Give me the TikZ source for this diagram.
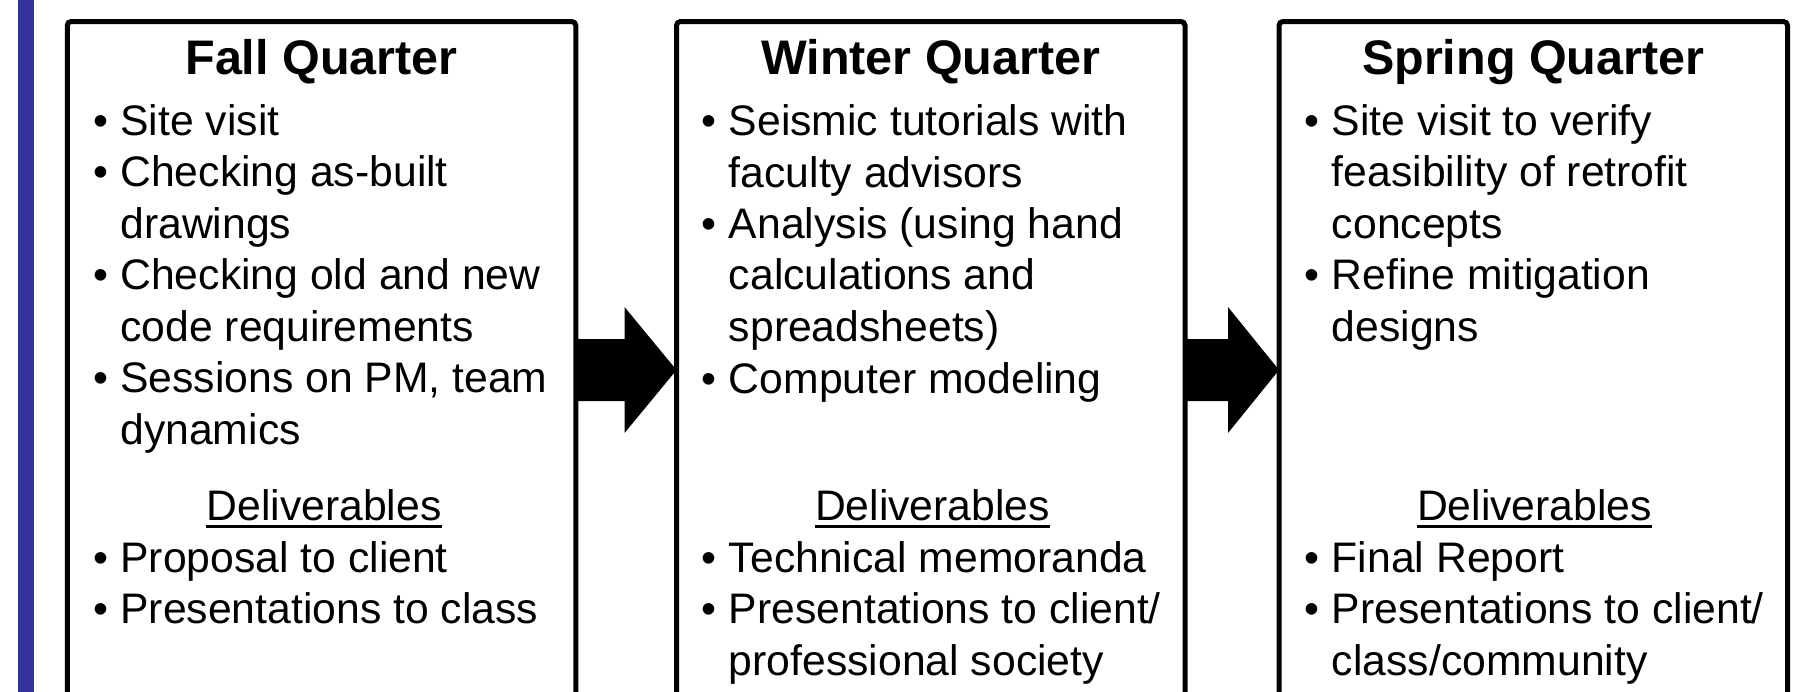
\documentclass[tikz,border=0pt]{standalone}
\usepackage{fontspec}
\setmainfont{Liberation Sans}
\usetikzlibrary{calc}
\definecolor{barblue}{RGB}{51,51,153}
\newcommand{\qbul}{\makebox[13.5pt][l]{•}}
\newcommand{\qind}{\hspace*{13.5pt}}
\begin{document}
\begin{tikzpicture}[x=0.5pt,y=-0.5pt,
  qbox/.style={draw=black, line width=2.5pt, rounded corners=2pt, minimum width=254.25pt, minimum height=348.5pt, inner sep=0pt, outer sep=0pt, anchor=north},
  ttl/.style={anchor=base, inner sep=0pt, font=\fontsize{24.25pt}{29pt}\selectfont\bfseries},
  itm/.style={anchor=base west, inner sep=0pt, align=left, font=\fontsize{21.35pt}{25.75pt}\selectfont},
  dlv/.style={anchor=base, inner sep=0pt, font=\fontsize{21.35pt}{25.75pt}\selectfont},
  uline/.style={line width=1.5pt},
  fat/.style={fill=black}]
\useasboundingbox (0,0) rectangle (1804,691);
\clip (0,0) rectangle (1804,691);
\fill[barblue] (18,-5) rectangle (34,700);
% boxes
\node[qbox] (fall) at (321.5,21.5) {};
\node[qbox] (winter) at (930.75,21.5) {};
\node[qbox] (spring) at (1533.25,21.5) {};
% arrows
\fill[fat] ($(fall.east)+(0,-31)$) -- ($(winter.west)+(-52,-31)$) -- ($(winter.west)+(-52,-63)$) -- (winter.west) -- ($(winter.west)+(-52,63)$) -- ($(winter.west)+(-52,31)$) -- ($(fall.east)+(0,31)$) -- cycle;
\fill[fat] ($(winter.east)+(0,-31)$) -- ($(spring.west)+(-51,-31)$) -- ($(spring.west)+(-51,-63)$) -- (spring.west) -- ($(spring.west)+(-51,63)$) -- ($(spring.west)+(-51,31)$) -- ($(winter.east)+(0,31)$) -- cycle;
% Fall (multi-line nodes are placed by the baseline of their last line)
\node[ttl] (fallT) at (321.5,74) {Fall Quarter};
\node[itm] (f1) at (93,135) {\qbul Site visit};
\node[itm] (f2) at (93,238) {\qbul Checking as-built\\\qind drawings};
\node[itm] (f3) at (93,341) {\qbul Checking old and new\\\qind code requirements};
\node[itm] (f4) at (93,444) {\qbul Sessions on PM, team\\\qind dynamics};
\node[dlv] (fd) at (324,520) {Deliverables};
\draw[uline] ($(fd.base west)+(0,6.5)$) -- ($(fd.base east)+(0,6.5)$);
\node[itm] (f5) at (93,572) {\qbul Proposal to client};
\node[itm] (f6) at (93,623) {\qbul Presentations to class};
% Winter
\node[ttl] (winT) at (930.75,74) {Winter Quarter};
\node[itm] (w1) at (701.5,187) {\qbul Seismic tutorials with\\\qind faculty advisors};
\node[itm] (w2) at (701.5,341) {\qbul Analysis (using hand\\\qind calculations and\\\qind spreadsheets)};
\node[itm] (w3) at (701.5,393) {\qbul Computer modeling};
\node[dlv] (wd) at (932.5,520) {Deliverables};
\draw[uline] ($(wd.base west)+(0,6.5)$) -- ($(wd.base east)+(0,6.5)$);
\node[itm] (w4) at (701.5,572) {\qbul Technical memoranda};
\node[itm] (w5) at (701.5,675) {\qbul Presentations to client/\\\qind professional society};
% Spring
\node[ttl] (sprT) at (1533.25,74) {Spring Quarter};
\node[itm] (s1) at (1304.5,238) {\qbul Site visit to verify\\\qind feasibility of retrofit\\\qind concepts};
\node[itm] (s2) at (1304.5,341) {\qbul Refine mitigation\\\qind designs};
\node[dlv] (sd) at (1534.5,520) {Deliverables};
\draw[uline] ($(sd.base west)+(0,6.5)$) -- ($(sd.base east)+(0,6.5)$);
\node[itm] (s3) at (1304.5,572) {\qbul Final Report};
\node[itm] (s4) at (1304.5,675) {\qbul Presentations to client/\\\qind class/community};
\end{tikzpicture}
\end{document}
